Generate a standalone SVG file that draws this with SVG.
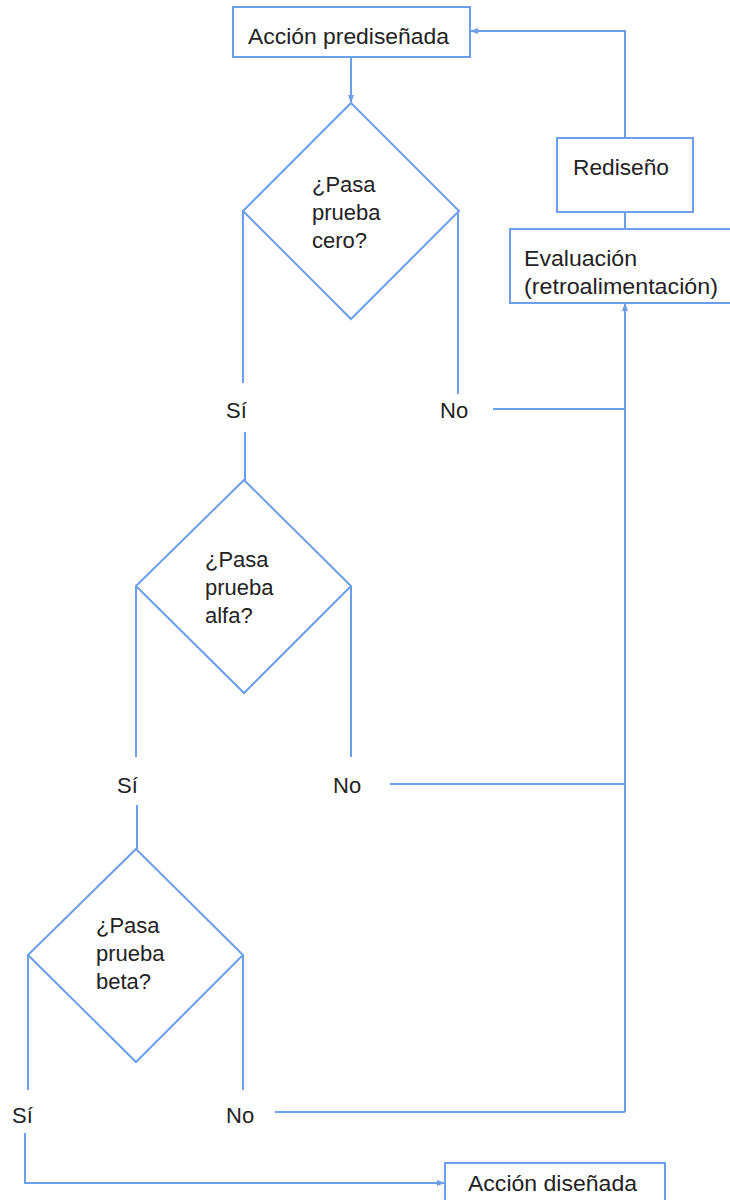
<svg xmlns="http://www.w3.org/2000/svg" width="730" height="1200" viewBox="0 0 730 1200">
<style>
.box{fill:#fff;stroke:#6d9eeb;stroke-width:2}
.dia{fill:#fff;stroke:#6d9eeb;stroke-width:2}
.ln{fill:none;stroke:#6d9eeb;stroke-width:2}
.t{font-family:"Liberation Sans",Arial,sans-serif;font-size:22px;fill:#222}
</style>
<defs>
<marker id="ah" markerWidth="8" markerHeight="8" refX="7" refY="4" orient="auto" markerUnits="userSpaceOnUse">
<path d="M0,1 L8,4 L0,7 Z" fill="#6d9eeb"/>
</marker>
</defs>
<rect width="730" height="1200" fill="#fff"/>
<g id="connectors">
<path class="ln" d="M351,57 V102" marker-end="url(#ah)"/>
<path class="ln" d="M625,138 V31 H471" marker-end="url(#ah)"/>
<path class="ln" d="M625,212 V229"/>
<path class="ln" d="M625,1112 V304" marker-end="url(#ah)"/>
<path class="ln" d="M243,211 V383"/>
<path class="ln" d="M458,211 V394"/>
<path class="ln" d="M493,409 H625"/>
<path class="ln" d="M245,432 V480"/>
<path class="ln" d="M136,586 V757"/>
<path class="ln" d="M351,586 V757"/>
<path class="ln" d="M390,784 H625"/>
<path class="ln" d="M137,805 V849"/>
<path class="ln" d="M28,955 V1090"/>
<path class="ln" d="M243,955 V1090"/>
<path class="ln" d="M275,1112 H625"/>
<path class="ln" d="M25,1133 V1183 H444" marker-end="url(#ah)"/>
</g>
<g id="n-prediseniada">
<rect class="box" x="233" y="7" width="237" height="50"/>
<text class="t" x="248" y="44" textLength="201" lengthAdjust="spacingAndGlyphs">Acción prediseñada</text>
</g>
<g id="n-rediseno">
<rect class="box" x="557" y="138" width="136" height="74"/>
<text class="t" x="573" y="175" textLength="96" lengthAdjust="spacingAndGlyphs">Rediseño</text>
</g>
<g id="n-evaluacion">
<rect class="box" x="510" y="229" width="230" height="74"/>
<text class="t" x="524" y="266" textLength="113" lengthAdjust="spacingAndGlyphs">Evaluación</text>
<text class="t" x="524" y="294" textLength="194" lengthAdjust="spacingAndGlyphs">(retroalimentación)</text>
</g>
<g id="n-cero">
<polygon class="dia" points="351,103 459,211 351,319 243,211"/>
<text class="t" x="312" y="192">¿Pasa</text>
<text class="t" x="312" y="220">prueba</text>
<text class="t" x="312" y="248">cero?</text>
</g>
<g id="l-si1"><text class="t" x="226" y="418">Sí</text></g>
<g id="l-no1"><text class="t" x="440" y="418">No</text></g>
<g id="n-alfa">
<polygon class="dia" points="244,480 351,586 244,693 136,586"/>
<text class="t" x="205" y="567">¿Pasa</text>
<text class="t" x="205" y="595">prueba</text>
<text class="t" x="205" y="623">alfa?</text>
</g>
<g id="l-si2"><text class="t" x="117" y="793">Sí</text></g>
<g id="l-no2"><text class="t" x="333" y="793">No</text></g>
<g id="n-beta">
<polygon class="dia" points="136,849 243,955 136,1062 28,955"/>
<text class="t" x="96" y="933">¿Pasa</text>
<text class="t" x="96" y="961">prueba</text>
<text class="t" x="96" y="989">beta?</text>
</g>
<g id="l-si3"><text class="t" x="12" y="1123">Sí</text></g>
<g id="l-no3"><text class="t" x="226" y="1123">No</text></g>
<g id="n-disenada">
<rect class="box" x="445" y="1163" width="220" height="50"/>
<text class="t" x="468" y="1191" textLength="169" lengthAdjust="spacingAndGlyphs">Acción diseñada</text>
</g>
</svg>
